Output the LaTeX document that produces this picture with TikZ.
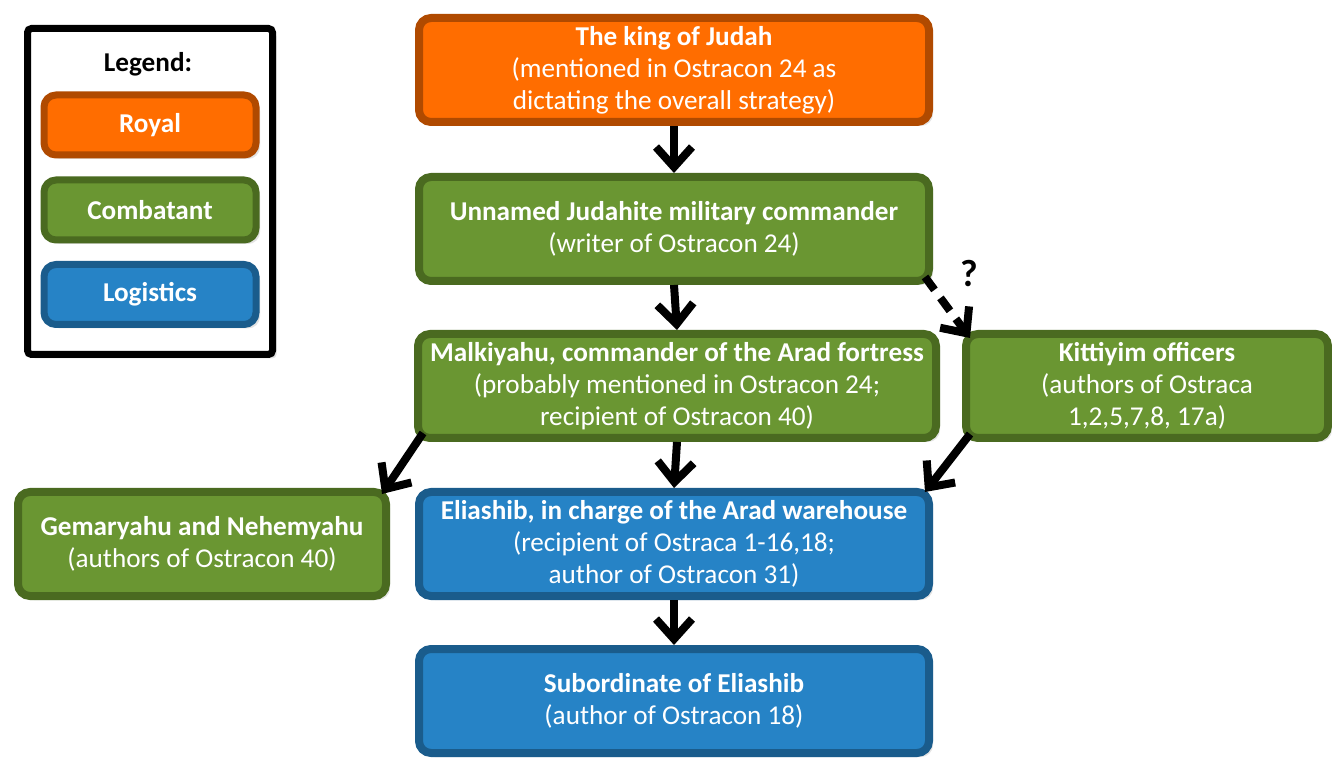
\documentclass[tikz,border=0pt]{standalone}
\usepackage{fontspec}
\setmainfont{Carlito}
\usetikzlibrary{positioning,arrows.meta,shadows}

\definecolor{royalfill}{RGB}{255,109,0}
\definecolor{royaldraw}{RGB}{176,74,0}
\definecolor{combfill}{RGB}{106,150,50}
\definecolor{combdraw}{RGB}{74,106,32}
\definecolor{logfill}{RGB}{38,131,198}
\definecolor{logdraw}{RGB}{26,92,140}

\tikzset{
  box/.style={rectangle, rounded corners=6pt, line width=4pt, align=center,
    text=white, inner sep=0pt, font=\fontsize{13.6}{16}\selectfont,
    drop shadow={shadow xshift=2pt, shadow yshift=-2pt, opacity=0.22}},
  royal/.style={box, fill=royalfill, draw=royaldraw},
  comb/.style={box, fill=combfill, draw=combdraw},
  logi/.style={box, fill=logfill, draw=logdraw},
  wide/.style={minimum width=255pt, minimum height=52pt},
  keybox/.style={line width=3.5pt, minimum width=106pt, minimum height=30pt},
  flow/.style={line width=4pt, -{Straight Barb[length=10pt,width=18pt]}},
}

\begin{document}
\begin{tikzpicture}[x=0.5pt, y=-0.5pt]
\useasboundingbox (0,0) rectangle (1332,758);

% legend
\node[draw=black, fill=white, line width=3.5pt, rounded corners=2pt,
  minimum width=122.5pt, minimum height=163pt, inner sep=0pt,
  drop shadow={shadow xshift=2pt, shadow yshift=-2pt, opacity=0.22}] (legend) at (150,191.5) {};
\node[font=\bfseries\fontsize{13.6}{16}\selectfont] (legendtitle) at (148,64) {Legend:};
\node[royal, keybox] (keyroyal) at (150,125) {\textbf{Royal}};
\node[comb, keybox] (keycomb) at (150,210) {\textbf{Combatant}};
\node[logi, keybox] (keylogi) at (150,294.5) {\textbf{Logistics}};

% chart
\node[royal, wide] (king) at (674,70)
  {\textbf{The king of Judah}\\(mentioned in Ostracon 24 as\\dictating the overall strategy)};
\node[comb, wide] (unnamed) at (674,229)
  {\textbf{Unnamed Judahite military commander}\\(writer of Ostracon 24)};
\node[comb, minimum width=259pt, minimum height=52pt] (malki) at (677,386)
  {\textbf{Malkiyahu, commander of the Arad fortress}\\(probably mentioned in Ostracon 24;\\recipient of Ostracon 40)};
\node[comb, minimum width=181pt, minimum height=52pt] (kitti) at (1147,386)
  {\textbf{Kittiyim officers}\\(authors of Ostraca\\1,2,5,7,8, 17a)};
\node[comb, minimum width=184pt, minimum height=52pt] (gemar) at (202,544)
  {\textbf{Gemaryahu and Nehemyahu}\\(authors of Ostracon 40)};
\node[logi, wide] (eliashib) at (674,544)
  {\textbf{Eliashib, in charge of the Arad warehouse}\\(recipient of Ostraca 1-16,18;\\author of Ostracon 31)};
\node[logi, wide] (subord) at (674,701)
  {\textbf{Subordinate of Eliashib}\\(author of Ostracon 18)};

\draw[flow] (king) -- (unnamed);
\draw[flow] (unnamed.south) -- (malki.north);
\draw[flow, dash pattern=on 8pt off 5pt] ([xshift=-4pt,yshift=4pt]unnamed.south east)
  -- ([xshift=4pt,yshift=-4pt]kitti.north west);
\node[font=\bfseries\fontsize{19}{22}\selectfont] (qmark) at (969,274) {?};
\draw[flow] ([xshift=4.5pt,yshift=4.5pt]malki.south west) -- ([xshift=-4pt,yshift=-3pt]gemar.north east);
\draw[flow] (malki.south) -- (eliashib.north);
\draw[flow] ([xshift=4pt,yshift=4pt]kitti.south west) -- ([xshift=-4pt,yshift=-2pt]eliashib.north east);
\draw[flow] (eliashib) -- (subord);

\end{tikzpicture}
\end{document}
